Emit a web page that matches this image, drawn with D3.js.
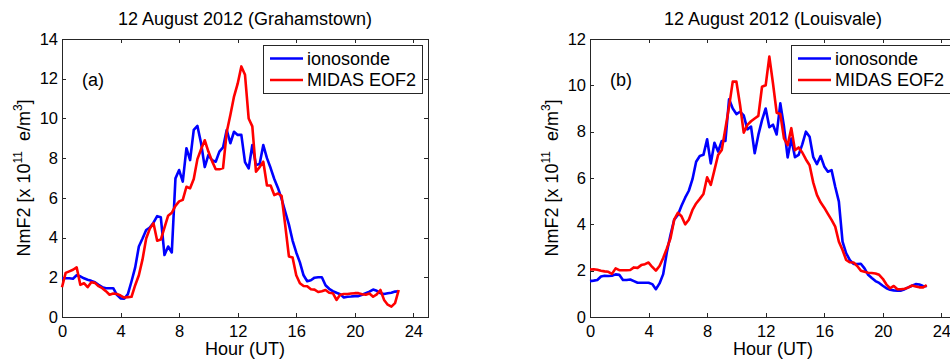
<!DOCTYPE html>
<html>
<head>
<meta charset="utf-8">
<script src="https://cdn.jsdelivr.net/npm/d3@7"></script>
<style>
  body { margin: 0; background: #fff; }
  svg { display: block; font-family: "Liberation Sans", Arial, Helvetica, sans-serif; }
</style>
</head>
<body>
<div id="chart"></div>
<script>
// 15-minute samples, 0..23 UT
const hours = d3.range(0, 23.001, 0.25);
const hourTicks = [0, 4, 8, 12, 16, 20, 24];

// Grahamstown
const grahamIono = [
  1.95, 1.95, 1.95, 1.93,  2.10, 2.05, 1.95, 1.88,  1.82, 1.75, 1.62, 1.50,
  1.45, 1.45, 1.45, 1.12,  0.94, 0.92, 1.15, 1.80,  2.50, 3.55, 3.95, 4.38,
  4.50, 4.75, 5.08, 5.02,  3.12, 3.55, 3.25, 6.98,  7.40, 6.82, 8.50, 7.90,
  9.42, 9.62, 8.75, 7.55,  8.16, 7.90, 7.82, 8.33,  8.54, 9.42, 8.75, 9.33,
  9.17, 9.17, 7.80, 7.48,  8.66, 7.65, 7.70, 8.66,  8.00, 7.50, 6.95, 6.50,
  5.95, 5.30, 4.65, 3.85,  3.25, 2.75, 2.10, 1.80,  1.85, 1.98, 2.00, 2.00,
  1.60, 1.42, 1.30, 1.22,  1.15, 0.98, 1.02, 1.03,  1.05, 1.05, 1.12, 1.20,
  1.28, 1.38, 1.32, 1.20,  1.16, 1.20, 1.22, 1.28,  1.30
];
const grahamMidas = [
  1.50, 2.22, 2.30, 2.38,  2.50, 1.62, 1.70, 1.50,  1.75, 1.72, 1.55, 1.45,
  1.30, 1.12, 1.18, 1.16,  1.08, 0.98, 1.00, 1.02,  1.60, 2.10, 2.90, 3.95,
  4.45, 4.72, 3.84, 3.90,  4.50, 5.10, 5.25, 5.60,  5.82, 5.90, 6.56, 6.48,
  6.95, 7.95, 8.45, 8.90,  8.33, 7.85, 7.44, 7.44,  7.50, 9.30, 10.17, 11.10,
  11.75, 12.62, 12.20, 10.00,  9.60, 7.32, 7.55, 7.82,  6.62, 6.62, 6.14, 6.22,
  6.10, 4.60, 3.05, 3.00,  2.10, 1.70, 1.56, 1.55,  1.40, 1.38, 1.26, 1.30,
  1.36, 1.22, 1.20, 0.86,  1.12, 1.16, 1.16, 1.18,  1.20, 1.20, 1.15, 1.12,
  1.18, 1.02, 1.14, 1.36,  0.86, 0.62, 0.52, 0.70,  1.36
];

// Louisvale
const louisIono = [
  1.55, 1.57, 1.60, 1.75,  1.78, 1.77, 1.78, 1.84,  1.82, 1.60, 1.60, 1.62,
  1.55, 1.48, 1.48, 1.48,  1.48, 1.42, 1.20, 1.45,  1.85, 2.80, 3.55, 4.20,
  4.40, 4.80, 5.15, 5.45,  5.95, 6.70, 6.95, 7.00,  7.67, 6.63, 7.52, 7.14,
  7.60, 7.60, 9.40, 9.00,  8.76, 8.86, 8.70, 8.10,  8.22, 7.07, 7.86, 8.50,
  9.00, 8.19, 8.30, 7.88,  9.22, 8.22, 6.89, 7.70,  6.90, 7.00, 7.45, 8.00,
  7.78, 6.90, 6.60, 6.95,  6.50, 6.27, 6.34, 5.62,  4.98, 3.25, 2.75, 2.46,
  2.29, 2.29, 2.30, 2.10,  1.82, 1.68, 1.55, 1.47,  1.35, 1.24, 1.18, 1.15,
  1.14, 1.14, 1.20, 1.28,  1.35, 1.42, 1.40, 1.34,  1.33
];
const louisMidas = [
  2.05, 2.06, 2.04, 2.00,  1.97, 1.95, 1.86, 2.10,  2.02, 2.02, 2.02, 2.03,
  2.14, 2.12, 2.24, 2.28,  2.35, 2.16, 2.00, 2.20,  2.55, 2.96, 3.40, 4.20,
  4.50, 4.35, 4.00, 4.20,  4.62, 4.90, 5.10, 5.31,  6.03, 5.70, 6.34, 6.99,
  7.21, 8.14, 9.08, 10.16,  10.16, 9.15, 7.96, 8.29,  8.45, 8.57, 8.68, 9.94,
  10.00, 11.24, 10.08, 8.82,  8.76, 7.71, 7.42, 8.15,  7.20, 7.32, 7.10, 6.80,
  6.55, 5.80, 5.27, 4.95,  4.72, 4.45, 4.19, 3.90,  3.25, 2.89, 2.46, 2.36,
  2.35, 2.20, 2.00, 1.95,  1.91, 1.90, 1.88, 1.82,  1.65, 1.40, 1.24, 1.34,
  1.20, 1.20, 1.22, 1.28,  1.36, 1.32, 1.28, 1.28,  1.38
];

const seriesNames = ['ionosonde', 'MIDAS EOF2'];
const seriesColors = ['#0000ff', '#ff0000'];

const panels = [
  {left: 62, title: '12 August 2012 (Grahamstown)', tag: '(a)', yMax: 14,
   yTicks: [0, 2, 4, 6, 8, 10, 12, 14], series: [grahamIono, grahamMidas]},
  {left: 590, title: '12 August 2012 (Louisvale)', tag: '(b)', yMax: 12,
   yTicks: [0, 2, 4, 6, 8, 10, 12], series: [louisIono, louisMidas]},
];

const width = 950, height = 363;
const plotW = 366, plotTop = 39, plotBottom = 317;
const axisColor = '#262626';

const svg = d3.select('#chart').append('svg')
  .attr('width', width)
  .attr('height', height);

function styleAxis(sel, showText) {
  sel.select('.domain').remove();
  sel.selectAll('.tick line').attr('stroke', axisColor).attr('shape-rendering', 'crispEdges');
  sel.selectAll('.tick text')
    .attr('fill', '#000')
    .style('font-size', '16.5px')
    .style('font-family', '"Liberation Sans", Arial, sans-serif');
  if (!showText) sel.selectAll('.tick text').remove();
}

panels.forEach(p => {
  const g = svg.append('g').attr('transform', `translate(${p.left},0)`);

  const x = d3.scaleLinear().domain([0, 25]).range([0, plotW]);
  const y = d3.scaleLinear().domain([0, p.yMax]).range([plotBottom, plotTop]);

  g.append('g')
    .attr('transform', `translate(0,${plotBottom})`)
    .call(d3.axisBottom(x).tickValues(hourTicks).tickSizeInner(-4).tickSizeOuter(0).tickPadding(8))
    .call(s => styleAxis(s, true));
  g.append('g')
    .attr('transform', `translate(0,${plotTop})`)
    .call(d3.axisTop(x).tickValues(hourTicks).tickSizeInner(-4).tickSizeOuter(0))
    .call(s => styleAxis(s, false));
  g.append('g')
    .call(d3.axisLeft(y).tickValues(p.yTicks).tickSizeInner(-4).tickSizeOuter(0).tickPadding(4))
    .call(s => styleAxis(s, true));
  g.append('g')
    .attr('transform', `translate(${plotW},0)`)
    .call(d3.axisRight(y).tickValues(p.yTicks).tickSizeInner(-4).tickSizeOuter(0))
    .call(s => styleAxis(s, false));

  g.append('rect')
    .attr('x', 0).attr('y', plotTop)
    .attr('width', plotW).attr('height', plotBottom - plotTop)
    .attr('fill', 'none')
    .attr('stroke', axisColor)
    .attr('shape-rendering', 'crispEdges');

  const line = d3.line()
    .x((d, i) => x(hours[i]))
    .y(d => y(d));

  p.series.forEach((vals, k) => {
    g.append('path')
      .datum(vals)
      .attr('d', line)
      .attr('fill', 'none')
      .attr('stroke', seriesColors[k])
      .attr('stroke-width', 2.6)
      .attr('stroke-linejoin', 'round');
  });

  // panel tag
  g.append('text')
    .attr('x', 20).attr('y', 86)
    .style('font-size', '18px')
    .text(p.tag);

  // title
  g.append('text')
    .attr('x', plotW / 2).attr('y', 24.5)
    .attr('text-anchor', 'middle')
    .style('font-size', '18px')
    .text(p.title);

  // axis labels
  g.append('text')
    .attr('x', plotW / 2).attr('y', 355)
    .attr('text-anchor', 'middle')
    .style('font-size', '18px')
    .text('Hour (UT)');

  const yl = g.append('text')
    .attr('transform', 'rotate(-90)')
    .attr('x', -(plotTop + plotBottom) / 2).attr('y', -32)
    .attr('text-anchor', 'middle')
    .style('font-size', '18px');
  yl.append('tspan').text('NmF2 [x 10');
  yl.append('tspan').attr('dy', -8).style('font-size', '12px').text('11');
  yl.append('tspan').attr('dy', 8).text('\u00a0 e/m');
  yl.append('tspan').attr('dy', -8).style('font-size', '12px').text('3');
  yl.append('tspan').attr('dy', 8).text(']');

  // legend
  const lg = g.append('g').attr('transform', `translate(${plotW - 165},45)`);
  lg.append('rect')
    .attr('width', 159).attr('height', 48)
    .attr('fill', '#fff')
    .attr('stroke', axisColor)
    .attr('shape-rendering', 'crispEdges');
  seriesNames.forEach((name, k) => {
    const ry = 13.5 + k * 21.5;
    lg.append('line')
      .attr('x1', 7).attr('x2', 40)
      .attr('y1', ry).attr('y2', ry)
      .attr('stroke', seriesColors[k])
      .attr('stroke-width', 2.6);
    lg.append('text')
      .attr('x', 44).attr('y', ry)
      .attr('dy', '0.35em')
      .style('font-size', '18px')
      .text(name);
  });
});
</script>
</body>
</html>
